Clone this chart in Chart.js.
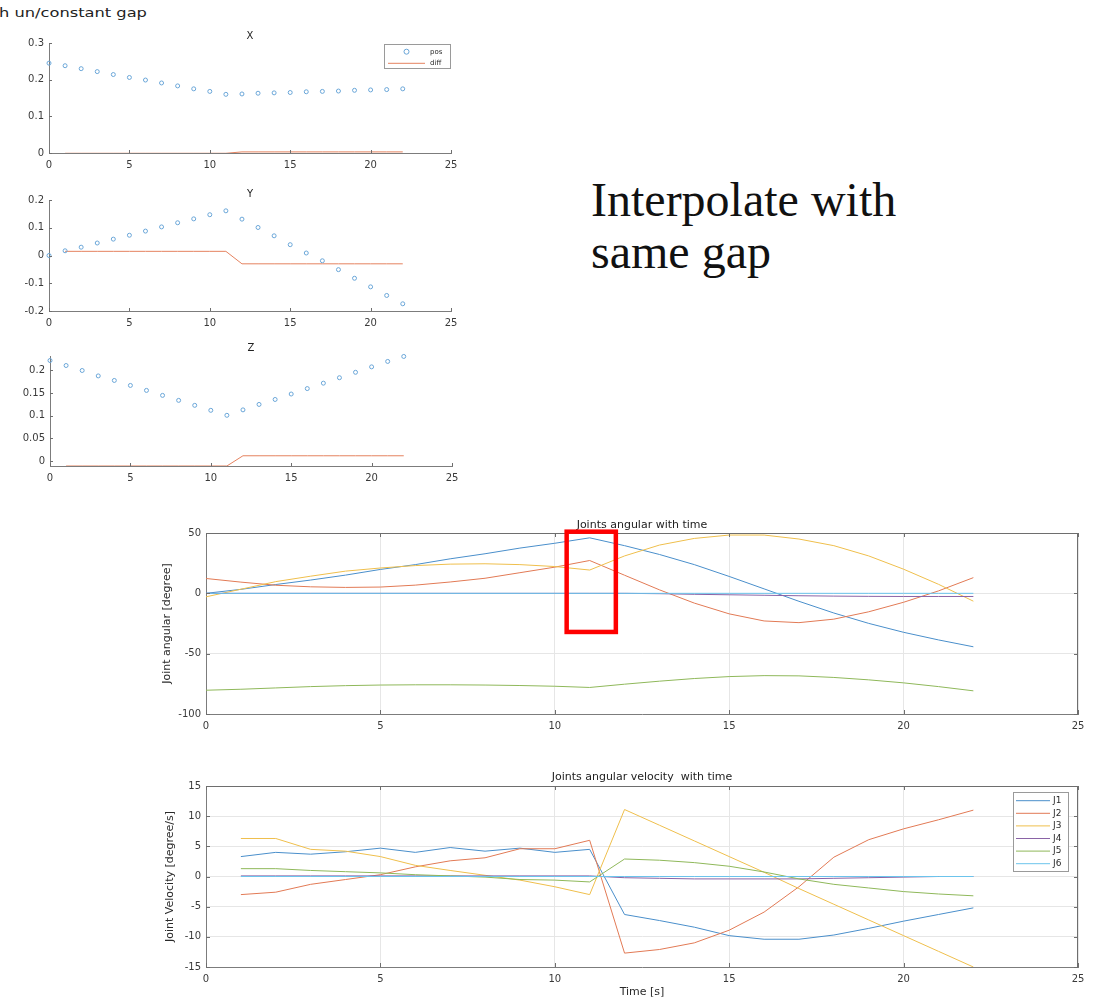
<!DOCTYPE html>
<html>
<head>
<meta charset="utf-8">
<script src="https://cdn.jsdelivr.net/npm/chart.js@4.4.1/dist/chart.umd.min.js"></script>
<style>
  body { margin: 0; background: #fff; width: 1099px; height: 1000px; position: relative; overflow: hidden; }
  .plot { position: absolute; }
  #caption { position: absolute; left: -1px; top: 6px; font: 13px/13px "DejaVu Sans", sans-serif; color: #222; white-space: nowrap; transform: scaleX(1.25); transform-origin: left top; }
  #note { position: absolute; left: 591px; top: 174px; font: 48px/52px "Liberation Serif", "Times New Roman", serif; color: #111; }
</style>
</head>
<body>
<div id="caption">h un/constant gap</div>
<div id="note">Interpolate with<br>same gap</div>
<script>
// ---- data: position subplots (sample index 0..22, diff at 1..22)
const sampleIdx = [0,1,2,3,4,5,6,7,8,9,10,11,12,13,14,15,16,17,18,19,20,21,22];
const diffIdx = [1,2,3,4,5,6,7,8,9,10,11,12,13,14,15,16,17,18,19,20,21,22];

const posX = [0.245,0.238,0.230,0.222,0.214,0.206,0.199,0.191,0.183,0.175,0.168,0.160,0.161,0.163,0.164,0.165,0.167,0.168,0.169,0.171,0.172,0.173,0.175];
const diffX = [-0.0008,-0.0008,-0.0008,-0.0008,-0.0008,-0.0008,-0.0008,-0.0008,-0.0008,-0.0008,-0.0008,0.003,0.003,0.003,0.003,0.003,0.003,0.003,0.003,0.003,0.003,0.003];

const posY = [0.0,0.017,0.030,0.045,0.059,0.073,0.088,0.103,0.118,0.132,0.147,0.161,0.131,0.101,0.071,0.039,0.009,-0.019,-0.051,-0.082,-0.113,-0.144,-0.174];
const diffY = [0.015,0.015,0.015,0.015,0.015,0.015,0.015,0.015,0.015,0.015,0.015,-0.030,-0.030,-0.030,-0.030,-0.030,-0.030,-0.030,-0.030,-0.030,-0.030,-0.030];

const posZ = [0.222,0.211,0.200,0.188,0.178,0.167,0.156,0.145,0.134,0.123,0.112,0.101,0.113,0.125,0.136,0.148,0.160,0.172,0.184,0.196,0.208,0.220,0.231];
const diffZ = [-0.011,-0.011,-0.011,-0.011,-0.011,-0.011,-0.011,-0.011,-0.011,-0.011,-0.011,0.0116,0.0116,0.0116,0.0116,0.0116,0.0116,0.0116,0.0116,0.0116,0.0116,0.0116];

const smallXTicks = [0,5,10,15,20,25];
const ticksX = [0,0.1,0.2,0.3];
const ticksY = [-0.2,-0.1,0,0.1,0.2];
const ticksZ = [0,0.05,0.1,0.15,0.2];

// ---- data: joint angles (t = 0..22 s) and velocities (t = 1..22 s)
const jointNames = ['J1','J2','J3','J4','J5','J6'];
const jointColors = ['#4a8fcb','#e27a55','#efbf4c','#8a63a6','#8fb85a','#6cc4ec'];

const angJ1 = [0,3.3,7.3,11.0,15.1,19.8,23.8,28.6,32.8,37.5,41.5,46.0,39.5,32.2,23.8,14.0,3.7,-6.6,-16.3,-24.9,-32.3,-38.6,-44.3];
const angJ2 = [12.3,9.3,6.7,5.4,4.9,5.2,6.8,9.4,12.5,17.1,21.7,27.2,15.0,2.9,-8.1,-17.0,-22.9,-24.3,-21.4,-15.3,-7.4,2.0,13.0];
const angJ3 = [-2.9,3.4,9.7,14.2,18.4,21.0,23.0,24.2,24.5,23.8,22.2,19.3,31.0,40.0,45.5,48.3,48.3,45.0,39.5,31.0,20.0,7.5,-6.5];
const angJ4 = [0,0,0,0,0,0,0,0,0,0,0,0,0,-0.3,-0.8,-1.2,-1.6,-2.0,-2.3,-2.5,-2.6,-2.6,-2.6];
const angJ5 = [-80.3,-79.5,-78.4,-77.3,-76.5,-76.0,-75.8,-75.8,-76.0,-76.4,-77.0,-78.0,-75.3,-72.8,-70.6,-69.0,-68.2,-68.4,-69.7,-71.7,-74.2,-77.3,-80.8];
const angJ6 = [0,0,0,0,0,0,0,0,0,0,0,0,0,0,0,0,0,0,0,0,0,0,0];

const velJ1 = [3.3,4.0,3.7,4.1,4.7,4.0,4.8,4.2,4.7,4.0,4.5,-6.3,-7.3,-8.4,-9.8,-10.4,-10.4,-9.7,-8.6,-7.4,-6.3,-5.2];
const velJ2 = [-3.0,-2.6,-1.3,-0.5,0.3,1.6,2.6,3.1,4.6,4.6,6.0,-12.7,-12.1,-11.0,-8.9,-5.9,-1.7,3.2,6.1,7.9,9.4,11.0];
const velJ3 = [6.3,6.3,4.5,4.2,3.3,1.85,1.0,0.2,-0.6,-1.7,-3.0,11.1,8.5,5.9,3.3,0.7,-2.0,-4.6,-7.2,-9.8,-12.4,-15.0];
const velJ4 = [0.1,0.1,0.1,0.1,0.1,0.1,0.1,0.1,0.1,0.1,0.1,-0.2,-0.3,-0.4,-0.4,-0.4,-0.4,-0.3,-0.2,-0.1,0,0];
const velJ5 = [1.3,1.3,1.0,0.8,0.6,0.3,0.1,-0.1,-0.5,-0.6,-0.9,2.9,2.7,2.3,1.7,0.75,-0.4,-1.3,-1.9,-2.5,-2.9,-3.2];
const velJ6 = [0,0,0,0,0,0,0,0,0,0,0,0,0,0,0,0,0,0,0,0,0,0];

const bigXTicks = [0,5,10,15,20,25];
const angTicks = [-100,-50,0,50];
const velTicks = [-15,-10,-5,0,5,10,15];

// red box drawn on the angle plot, in data units
const highlightBox = { x0: 10.34, x1: 11.75, y0: -32, y1: 51.1 };

const FONT = '"DejaVu Sans", sans-serif';

// MATLAB-like inward ticks + optional box
const matlabAxes = {
  id: 'matlab',
  afterDatasetsDraw(chart, args, o) {
    const { ctx, chartArea: a, scales: { x, y } } = chart;
    const len = o.tick || 3;
    ctx.save();
    ctx.strokeStyle = o.color || '#6e6e6e';
    ctx.lineWidth = 1;
    ctx.beginPath();
    x.ticks.forEach(t => {
      const px = Math.round(x.getPixelForValue(t.value)) + 0.5;
      ctx.moveTo(px, a.bottom); ctx.lineTo(px, a.bottom - len);
      if (o.box) { ctx.moveTo(px, a.top); ctx.lineTo(px, a.top + len); }
    });
    y.ticks.forEach(t => {
      const py = Math.round(y.getPixelForValue(t.value)) + 0.5;
      ctx.moveTo(a.left, py); ctx.lineTo(a.left + len, py);
      if (o.box) { ctx.moveTo(a.right, py); ctx.lineTo(a.right - len, py); }
    });
    if (o.box) {
      ctx.moveTo(a.left, Math.round(a.top) + 0.5); ctx.lineTo(a.right, Math.round(a.top) + 0.5);
      ctx.moveTo(Math.round(a.right) - 0.5, a.top); ctx.lineTo(Math.round(a.right) - 0.5, a.bottom);
    }
    ctx.stroke();
    ctx.restore();
  }
};

// legend box inside the plot, top-right
const boxLegend = {
  id: 'boxLegend',
  afterDraw(chart, args, o) {
    if (!o.w) return;
    const { ctx, chartArea: a } = chart;
    const left = Math.round(a.right - o.inset[0] - o.w), top = Math.round(a.top + o.inset[1]);
    ctx.save();
    ctx.fillStyle = '#fff';
    ctx.fillRect(left, top, o.w, o.h);
    ctx.strokeStyle = '#9a9a9a';
    ctx.lineWidth = 1;
    ctx.strokeRect(left + 0.5, top + 0.5, o.w, o.h);
    ctx.font = o.size + 'px ' + FONT;
    ctx.textBaseline = 'middle';
    chart.data.datasets.forEach((ds, i) => {
      const cy = top + o.row0 + i * o.rowH;
      ctx.strokeStyle = ds.borderColor;
      ctx.beginPath();
      if (ds.showLine === false) {
        ctx.arc(left + (o.s0 + o.s1) / 2, cy, ds.pointRadius + 0.5, 0, Math.PI * 2);
      } else {
        ctx.moveTo(left + o.s0, cy); ctx.lineTo(left + o.s1, cy);
      }
      ctx.stroke();
      ctx.fillStyle = '#2a2a2a';
      ctx.fillText(ds.label, left + o.tx, cy);
    });
    ctx.restore();
  }
};

const highlight = {
  id: 'highlight',
  afterDraw(chart, args, o) {
    if (!o.box) return;
    const { ctx, scales: { x, y } } = chart;
    const l = x.getPixelForValue(o.box.x0), r = x.getPixelForValue(o.box.x1);
    const t = y.getPixelForValue(o.box.y1), b = y.getPixelForValue(o.box.y0);
    ctx.save();
    ctx.strokeStyle = '#ff0000';
    ctx.lineWidth = 4.5;
    ctx.strokeRect(l, t, r - l, b - t);
    ctx.restore();
  }
};

const pts = (xs, ys) => xs.map((x, i) => ({ x: x, y: ys[i] }));

function axis(ticks, lo, hi, o) {
  return {
    type: 'linear', min: lo, max: hi,
    afterBuildTicks: s => { s.ticks = ticks.map(v => ({ value: v })); },
    afterFit: s => { if (o.w != null) s.width = o.w; if (o.h != null) s.height = o.h; },
    grid: { display: !!o.grid, color: '#e6e6e6', drawTicks: false },
    border: { display: true, color: '#7c7c7c' },
    ticks: { padding: o.pad, autoSkip: false, maxRotation: 0, font: { family: FONT, size: o.size }, color: '#3a3a3a', callback: v => String(v) },
    title: o.title ? { display: true, text: o.title, color: '#2a2a2a', font: { family: FONT, size: 11 }, padding: o.titlePad } : { display: false }
  };
}

function place(area, m, config) {
  const wrap = document.createElement('div');
  wrap.className = 'plot';
  wrap.style.left = (area.l - m.l) + 'px';
  wrap.style.top = (area.t - m.t) + 'px';
  const cv = document.createElement('canvas');
  cv.width = area.r - area.l + m.l + m.r;
  cv.height = area.b - area.t + m.t + m.b;
  wrap.appendChild(cv);
  document.body.appendChild(wrap);
  config.options.responsive = false;
  config.options.animation = false;
  config.options.layout = { padding: { left: 0, top: 0, right: m.r, bottom: 0 } };
  config.plugins = [matlabAxes, boxLegend, highlight];
  return new Chart(cv, config);
}

function smallPlot(area, titleText, titleY, pos, diff, yTicks, yMin, yMax, legend) {
  const m = { l: area.l, t: 20, r: 20, b: 24 };
  const pt = titleY - (area.t - m.t) - 6;
  place(area, m, {
    type: 'scatter',
    data: {
      datasets: [
        { label: 'pos', data: pts(sampleIdx, pos), showLine: false, pointRadius: 2, pointBorderWidth: 1,
          borderColor: '#6aa6d8', backgroundColor: 'rgba(0,0,0,0)', pointBackgroundColor: 'rgba(0,0,0,0)', clip: false },
        { label: 'diff', data: pts(diffIdx, diff), showLine: true, pointRadius: 0, borderWidth: 1,
          borderColor: '#e5825f', backgroundColor: '#e5825f' }
      ]
    },
    options: {
      scales: {
        x: axis(smallXTicks, 0, 25, { h: m.b, pad: 6, size: 10 }),
        y: axis(yTicks, yMin, yMax, { w: m.l, pad: 5, size: 10 })
      },
      plugins: {
        legend: { display: false }, tooltip: { enabled: false },
        title: { display: true, text: titleText, fullSize: false, color: '#222', font: { family: FONT, size: 10, weight: 'normal', lineHeight: 1.2 },
                 padding: { top: pt, bottom: m.t - 12 - pt } },
        matlab: { tick: 3, box: false },
        boxLegend: legend || {}
      }
    }
  });
}

smallPlot({ l: 49, t: 43, r: 451, b: 153 }, 'X', 36, posX, diffX, ticksX, 0, 0.3,
  { w: 66, h: 24, inset: [1, 1], row0: 7.7, rowH: 11.6, s0: 4, s1: 41, tx: 46, size: 7 });
smallPlot({ l: 49, t: 200, r: 451, b: 311 }, 'Y', 194, posY, diffY, ticksY, -0.2, 0.2, null);
smallPlot({ l: 50, t: 356, r: 452, b: 466 }, 'Z', 348, posZ, diffZ, ticksZ, -0.011, 0.232, null);

function bigPlot(area, m, titleText, titleY, xs, series, yTicks, yMin, yMax, yTitle, yTitlePad, xTitle, extra) {
  const pt = titleY - (area.t - m.t) - 6.6;
  const datasets = series.map((s, i) => ({
    label: jointNames[i], data: pts(xs, s), borderColor: jointColors[i], backgroundColor: jointColors[i],
    borderWidth: 1, pointRadius: 0, tension: 0, order: -i
  }));
  place(area, m, {
    type: 'line',
    data: { datasets },
    options: {
      scales: {
        x: axis(bigXTicks, 0, 25, { h: m.b, pad: 6, size: 10, grid: true, title: xTitle, titlePad: { top: 0, bottom: 1.4 } }),
        y: axis(yTicks, yMin, yMax, { w: m.l, pad: 5, size: 10, grid: true, title: yTitle, titlePad: { top: yTitlePad, bottom: 0 } })
      },
      plugins: {
        legend: { display: false }, tooltip: { enabled: false },
        title: { display: true, text: titleText, fullSize: false, color: '#222', font: { family: FONT, size: 11, weight: 'normal', lineHeight: 1.2 },
                 padding: { top: pt, bottom: m.t - 13.2 - pt } },
        matlab: { tick: 4, box: true },
        boxLegend: extra.legend || {},
        highlight: extra.highlight || {}
      }
    }
  });
}

bigPlot({ l: 206, t: 533, r: 1078, b: 714 }, { l: 45, t: 20, r: 18, b: 20 },
  'Joints angular with time', 525, sampleIdx, [angJ1, angJ2, angJ3, angJ4, angJ5, angJ6],
  angTicks, -100, 50, 'Joint angular [degree]', 0, null, { highlight: { box: highlightBox } });

bigPlot({ l: 206, t: 786, r: 1078, b: 967 }, { l: 45, t: 20, r: 18, b: 33 },
  'Joints angular velocity  with time', 777, diffIdx, [velJ1, velJ2, velJ3, velJ4, velJ5, velJ6],
  velTicks, -15, 15, 'Joint Velocity [degree/s]', 3, 'Time [s]',
  { legend: { w: 55, h: 79, inset: [10, 6], row0: 8.7, rowH: 12.6, s0: 3, s1: 37, tx: 40, size: 9 } });
</script>
</body>
</html>
